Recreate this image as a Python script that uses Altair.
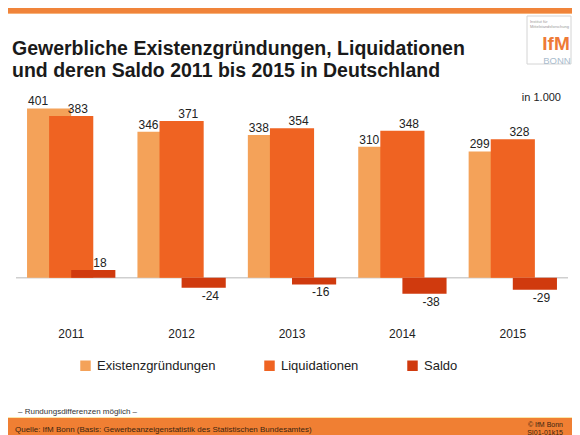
import altair as alt
import pandas as pd

# ---- data ----
years = ["2011", "2012", "2013", "2014", "2015"]
series = ["Existenzgründungen", "Liquidationen", "Saldo"]
gruendungen = [401, 346, 338, 310, 299]
liquidationen = [383, 371, 354, 348, 328]
saldo = [18, -24, -16, -38, -29]
colors = ["#F4A259", "#EF6322", "#D03A0E"]

title_lines = ["Gewerbliche Existenzgründungen, Liquidationen",
               "und deren Saldo 2011 bis 2015 in Deutschland"]
unit_note = "in 1.000"
footnote = "– Rundungsdifferenzen möglich –"
source = "Quelle: IfM Bonn (Basis: Gewerbeanzeigenstatistik des Statistischen Bundesamtes)"
copyright_lines = ["© IfM Bonn", "SI01-01k15"]

rows = []
for s_idx, (name, vals) in enumerate(zip(series, [gruendungen, liquidationen, saldo])):
    for i, (yr, v) in enumerate(zip(years, vals)):
        rows.append({"year": yr, "i": i, "s": s_idx, "series": name,
                     "value": v, "label": str(v), "zero": 0})
df = pd.DataFrame(rows)
year_df = pd.DataFrame({"year": years, "i": list(range(len(years)))})
one = pd.DataFrame({"k": [0]})

F = "Liberation Sans, Arial, Helvetica, sans-serif"
xs = alt.Scale(domain=[0, 5], nice=False, zero=False)
ys = alt.Scale(domain=[-53, 421], nice=False, zero=False)

base = alt.Chart(df).transform_calculate(
    x0="datum.i + 0.1 + 0.2 * datum.s",
    x1="datum.i + 0.5 + 0.2 * datum.s",
    lx="datum.i + 0.3 + 0.2 * datum.s + (datum.s == 0 ? -0.1 : 0.06)",
)

zero_line = alt.Chart(one).mark_rule(color="#cfcfcf", strokeWidth=1.5).encode(
    y=alt.Y("k:Q", scale=ys, axis=None), x=alt.value(0), x2=alt.value(552)
)

bars = base.mark_bar(strokeWidth=0).encode(
    x=alt.X("x0:Q", scale=xs, axis=None),
    x2="x1:Q",
    y=alt.Y("value:Q", scale=ys, axis=None, stack=None),
    y2="zero:Q",
    color=alt.Color(
        "series:N",
        scale=alt.Scale(domain=series, range=colors),
        legend=alt.Legend(
            title=None, orient="none", legendX=63, legendY=259,
            direction="horizontal", symbolType="square", symbolSize=110,
            symbolStrokeWidth=0, labelFontSize=13, labelFont=F,
            labelColor="#222222", columnPadding=47, labelOffset=5, padding=0,
        ),
    ),
)

lab_pos = base.transform_filter("datum.value >= 0").mark_text(
    baseline="alphabetic", dy=-3, fontSize=12, font=F, color="#222222"
).encode(x=alt.X("lx:Q", scale=xs, axis=None), y=alt.Y("value:Q", scale=ys, axis=None), text="label:N")

lab_neg = base.transform_filter("datum.value < 0").mark_text(
    baseline="top", dy=3, fontSize=12, font=F, color="#222222"
).encode(x=alt.X("lx:Q", scale=xs, axis=None), y=alt.Y("value:Q", scale=ys, axis=None), text="label:N")

year_labels = alt.Chart(year_df).transform_calculate(xc="datum.i + 0.5").mark_text(
    baseline="alphabetic", fontSize=12, font=F, color="#222222"
).encode(x=alt.X("xc:Q", scale=xs, axis=None), y=alt.value(238), text="year:N")

def deco_text(txt, x, y, **kw):
    return alt.Chart(one).mark_text(text=txt, font=F, **kw).encode(
        x=alt.value(x), y=alt.value(y))

def deco_rect(x, x2, y, y2, color, **kw):
    return alt.Chart(one).mark_rect(**kw).encode(
        x=alt.value(x), x2=alt.value(x2), y=alt.value(y), y2=alt.value(y2),
        color=alt.value(color))

top_band = deco_rect(-8, 556, -92, -87, "#F0843A")
top_band2 = deco_rect(-8, 556, -87, -86, "#F7B27A")
foot_band = deco_rect(-8, 556, 318, 335, "#F07F33")
foot_line = deco_rect(-8, 556, 317, 318, "#FBE6A8")

t1 = deco_text(title_lines[0], -4, -51, align="left", fontSize=19.5, fontWeight="bold", color="#1a1a1a")
t2 = deco_text(title_lines[1], -4, -29, align="left", fontSize=19.5, fontWeight="bold", color="#1a1a1a")
unit = deco_text(unit_note, 545, -2, align="right", fontSize=11, color="#222222")

logo_box = alt.Chart(one).mark_rect(fill="white", stroke="#d4d4d4", strokeWidth=1).encode(
    x=alt.value(511), x2=alt.value(555), y=alt.value(-84), y2=alt.value(-36))
logo_s1 = deco_text("Institut für", 514, -78, align="left", fontSize=4, color="#999999")
logo_s2 = deco_text("Mittelstandsforschung", 514, -73, align="left", fontSize=4, color="#999999")
logo_ifm = deco_text("IfM", 540, -56, align="center", fontSize=19, fontWeight="bold", color="#EE7A36")
logo_bonn = deco_text("BONN", 541, -39, align="center", fontSize=9.5, color="#A9BCCD")

fn = deco_text(footnote, 2, 312, align="left", fontSize=8, color="#333333")
src = deco_text(source, -1, 330, align="left", fontSize=8, color="#3a2410")
c1 = deco_text(copyright_lines[0], 547, 325, align="right", fontSize=7, color="#3a2410")
c2 = deco_text(copyright_lines[1], 547, 333, align="right", fontSize=7, color="#3a2410")

chart = alt.layer(
    top_band, top_band2, foot_line, foot_band,
    zero_line, bars, lab_pos, lab_neg, year_labels,
    t1, t2, unit, logo_box, logo_s1, logo_s2, logo_ifm, logo_bonn,
    fn, src, c1, c2,
).properties(
    width=552, height=200,
    padding={"left": 8, "top": 92, "right": 4, "bottom": 135},
    autosize=alt.AutoSizeParams(type="none"),
    background="white",
).configure_view(strokeWidth=0)

chart.save("out.html", embed_options={"renderer": "svg", "actions": False})
